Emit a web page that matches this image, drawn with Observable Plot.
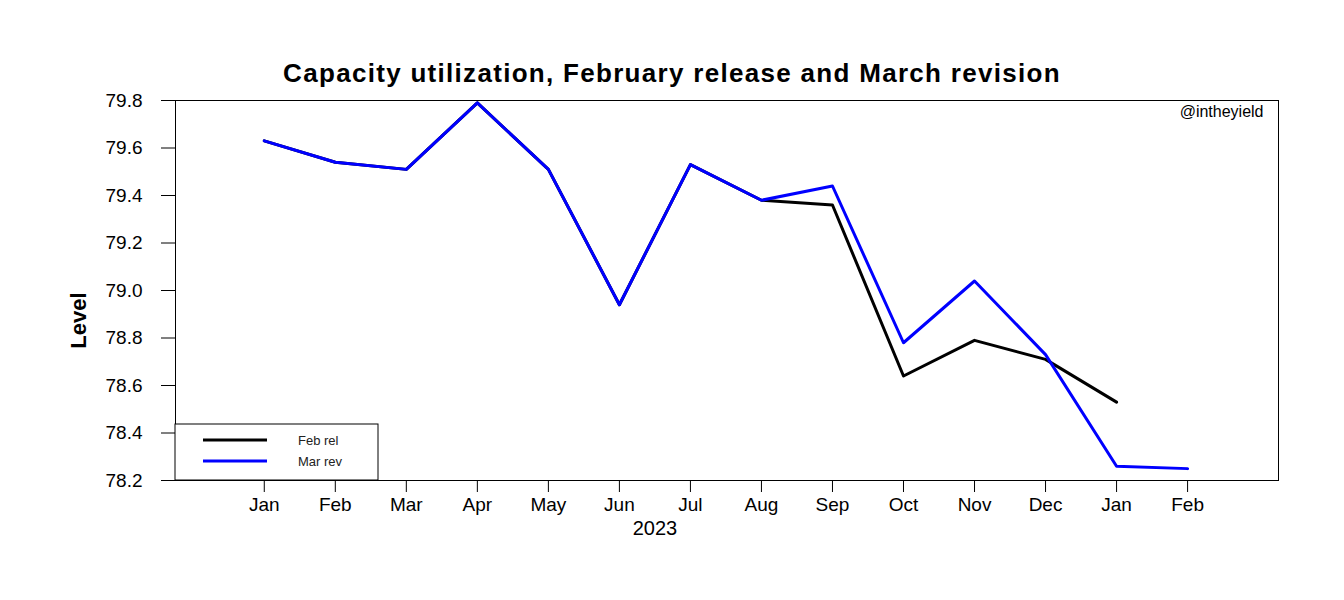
<!DOCTYPE html>
<html>
<head>
<meta charset="utf-8">
<script src="https://cdn.jsdelivr.net/npm/d3@7"></script>
<script src="https://cdn.jsdelivr.net/npm/@observablehq/plot@0.6"></script>
<style>
  body { margin: 0; background: #fff; }
  #chart svg { display: block; }
</style>
</head>
<body>
<div id="chart"></div>
<script>
const monthLabels = ["Jan","Feb","Mar","Apr","May","Jun","Jul","Aug","Sep","Oct","Nov","Dec","Jan","Feb"];
const febRelease = [79.63, 79.54, 79.51, 79.79, 79.51, 78.94, 79.53, 79.38, 79.36, 78.64, 78.79, 78.71, 78.53];
const marRevision = [79.63, 79.54, 79.51, 79.79, 79.51, 78.94, 79.53, 79.38, 79.44, 78.78, 79.04, 78.73, 78.26, 78.25];
const yTicks = [78.2, 78.4, 78.6, 78.8, 79.0, 79.2, 79.4, 79.6, 79.8];
const titleText = "Capacity utilization, February release and March revision";
const xAxisTitle = "2023";
const yAxisTitle = "Level";
const credit = "@intheyield";
const seriesNames = ["Feb rel", "Mar rev"];
const seriesColors = ["#000000", "#0000ff"];

const feb = febRelease.map((v, i) => ({i, v}));
const mar = marRevision.map((v, i) => ({i, v}));
const font = "'Liberation Sans', Arial, sans-serif";

const plot = Plot.plot({
  width: 1344,
  height: 600,
  marginLeft: 175,
  marginRight: 66,
  marginTop: 100,
  marginBottom: 120,
  style: {fontFamily: font, fontSize: "19px", color: "#000", background: "#fff"},
  x: {type: "linear", domain: [-1.25, 14.28]},
  y: {domain: [78.2, 79.8]},
  marks: [
    Plot.frame({stroke: "#000", strokeWidth: 1}),
    Plot.axisX({ticks: d3.range(monthLabels.length), tickFormat: i => monthLabels[i], tickSize: 12, tickPadding: 5, label: null, fontSize: 19}),
    Plot.axisY({ticks: yTicks, tickFormat: d => d.toFixed(1), tickSize: 14, tickPadding: 19, label: null, fontSize: 19}),
    Plot.line(feb, {x: "i", y: "v", stroke: seriesColors[0], strokeWidth: 3}),
    Plot.line(mar, {x: "i", y: "v", stroke: seriesColors[1], strokeWidth: 3}),
    Plot.text([titleText], {frameAnchor: "top", dx: -55, dy: -37, fontSize: 26, fontWeight: "bold", text: d => d}),
    Plot.text([credit], {frameAnchor: "top-right", dx: -15, dy: 5, fontSize: 16, textAnchor: "end", text: d => d}),
    Plot.text([xAxisTitle], {x: [5.5], frameAnchor: "bottom", dy: 54, fontSize: 20, text: d => d}),
    Plot.text([yAxisTitle], {frameAnchor: "left", dx: -97, dy: 30, rotate: -90, textAnchor: "middle", fontSize: 22, fontWeight: "bold", text: d => d})
  ]
});

document.getElementById("chart").appendChild(plot);

// widen the title letter spacing to match the reference's wide bold face
d3.select(plot).selectAll("text").filter(function() { return this.textContent === titleText; })
  .attr("letter-spacing", "1.3px");

// Legend box in the lower-left corner of the plot frame
const svg = d3.select(plot);
const left = 175, bottom = 480;
const g = svg.append("g").attr("font-family", font).attr("text-anchor", "start");
g.append("rect").attr("x", left).attr("y", bottom - 56).attr("width", 203).attr("height", 56)
  .attr("fill", "#fff").attr("stroke", "#000").attr("stroke-width", 1);
seriesNames.forEach((name, k) => {
  const yy = bottom - 40 + k * 21;
  g.append("line").attr("x1", left + 28).attr("x2", left + 92).attr("y1", yy).attr("y2", yy)
    .attr("stroke", seriesColors[k]).attr("stroke-width", 3);
  g.append("text").attr("x", left + 123).attr("y", yy).attr("dy", "0.35em")
    .attr("font-size", 13).attr("fill", "#222").text(name);
});
</script>
</body>
</html>
